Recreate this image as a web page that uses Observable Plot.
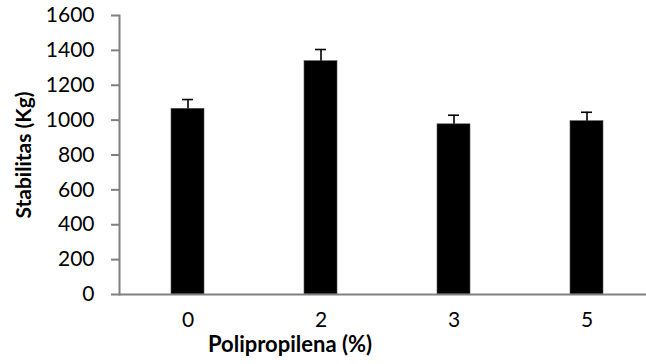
<!DOCTYPE html>
<html><head>
<meta charset="utf-8">
<script src="https://cdn.jsdelivr.net/npm/d3@7"></script>
<script src="https://cdn.jsdelivr.net/npm/@observablehq/plot@0.6"></script>
<style>body{margin:0;background:#fff}</style>
</head><body><div id="chart"></div>
<script>
const categories = ["0", "2", "3", "5"];
const values = [1065, 1338, 976, 994];
const errors = [53, 67, 52, 51];
const yTicks = [0, 200, 400, 600, 800, 1000, 1200, 1400, 1600];
const xTitle = "Polipropilena (%)";
const yTitle = "Stabilitas (Kg)";

const data = categories.map((c, i) => ({c, v: values[i], hi: values[i] + errors[i]}));
const axisColor = "#808080";

const chart = Plot.plot({
  width: 646, height: 364,
  marginLeft: 119, marginRight: 0, marginTop: 15, marginBottom: 70,
  style: {fontFamily: "Lato, 'Open Sans', sans-serif", fontSize: "21px", color: "#000", background: "#fff"},
  x: {domain: categories, range: [119, 654], paddingInner: 0.753, paddingOuter: 0.3765},
  y: {domain: [0, 1600]},
  marks: [
    Plot.barY(data, {x: "c", y: "v", fill: "#000", stroke: "#555", strokeWidth: 0.6}),
    Plot.ruleX(data, {x: "c", y1: "v", y2: "hi", stroke: "#000", strokeWidth: 1.6}),
    Plot.tickY(data, {x: "c", y: "hi", stroke: "#000", strokeWidth: 1.6, insetLeft: 11, insetRight: 11}),
    Plot.frame({anchor: "left", stroke: axisColor, strokeWidth: 2}),
    Plot.ruleY([0], {stroke: axisColor, strokeWidth: 2}),
    Plot.axisY({ticks: yTicks, tickFormat: d => String(d), tickSize: 8, tickPadding: 17, stroke: axisColor, strokeWidth: 2, fill: "#000", label: null, fontSize: 21}),
    Plot.axisX({tickSize: 0, tickPadding: 18, fill: "#000", label: null, fontSize: 21}),
    Plot.text([xTitle], {text: d => d, frameAnchor: "bottom", dx: -93, dy: 57, fontWeight: "bold", fontSize: 22, fill: "#000"}),
    Plot.text([yTitle], {text: d => d, frameAnchor: "left", textAnchor: "middle", rotate: -90, dx: -95, fontWeight: "bold", fontSize: 21, fill: "#000"})
  ]
});
document.getElementById("chart").append(chart);
</script>
</body></html>
